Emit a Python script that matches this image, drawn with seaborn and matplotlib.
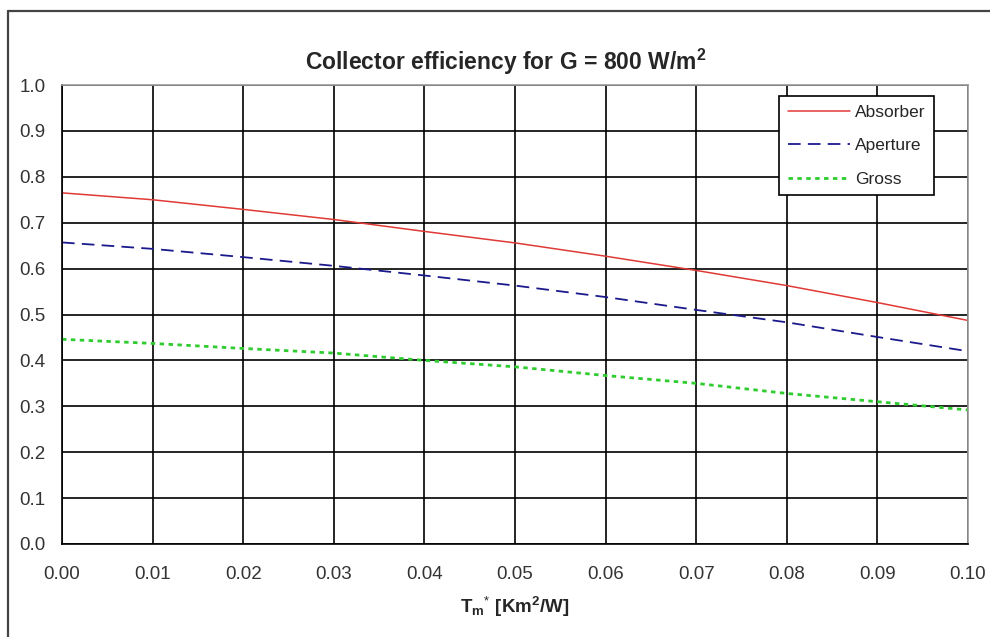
import matplotlib
matplotlib.use("Agg")
import matplotlib.pyplot as plt
import seaborn as sns
import pandas as pd
from matplotlib.lines import Line2D

# ---- data ----
tm = [0.00, 0.01, 0.02, 0.03, 0.04, 0.05, 0.06, 0.07, 0.08, 0.09, 0.10]
absorber = [0.765, 0.750, 0.729, 0.707, 0.681, 0.656, 0.627, 0.596, 0.563, 0.526, 0.487]
aperture = [0.657, 0.643, 0.625, 0.606, 0.585, 0.563, 0.538, 0.510, 0.483, 0.451, 0.420]
gross = [0.446, 0.437, 0.426, 0.416, 0.400, 0.386, 0.367, 0.350, 0.328, 0.310, 0.292]
series_names = ["Absorber", "Aperture", "Gross"]
x_ticks = [0.00, 0.01, 0.02, 0.03, 0.04, 0.05, 0.06, 0.07, 0.08, 0.09, 0.10]
y_ticks = [0.0, 0.1, 0.2, 0.3, 0.4, 0.5, 0.6, 0.7, 0.8, 0.9, 1.0]

df = pd.DataFrame({
    "Tm": tm * 3,
    "eff": absorber + aperture + gross,
    "series": [series_names[0]] * len(tm) + [series_names[1]] * len(tm) + [series_names[2]] * len(tm),
})

sns.set_style("white")
plt.rcParams["font.family"] = ["Liberation Sans", "DejaVu Sans"]
plt.rcParams["mathtext.fontset"] = "custom"
plt.rcParams["mathtext.rm"] = "Liberation Sans"
plt.rcParams["mathtext.it"] = "Liberation Sans"
plt.rcParams["mathtext.bf"] = "Liberation Sans:bold"

fig = plt.figure(figsize=(9.9, 6.37), dpi=100)
ax = fig.add_axes([62 / 990, 1 - 544 / 637, (968 - 62) / 990, (544 - 85) / 637])

styles = {
    "Absorber": dict(color="#e03a36", linestyle="-", linewidth=1.1),
    "Aperture": dict(color="#1a1a8c", linestyle=(0, (7, 4)), linewidth=1.3),
    "Gross": dict(color="#2ecc2e", linestyle=(0, (1.6, 1.6)), linewidth=2.0),
}
for name in series_names:
    sub = df[df["series"] == name]
    sns.lineplot(data=sub, x="Tm", y="eff", ax=ax, label=name,
                 legend=False, **styles[name])

ax.set_xlim(0, 0.10)
ax.set_ylim(0, 1.0)
ax.set_xticks(x_ticks)
ax.set_yticks(y_ticks)
ax.set_xticklabels([f"{v:.2f}" for v in x_ticks])
ax.set_yticklabels([f"{v:.1f}" for v in y_ticks])
ax.grid(True, color="black", linewidth=1.2)
ax.set_axisbelow(True)
ax.tick_params(axis="both", which="major", length=5, width=1.2, color="black",
               labelsize=13.5, labelcolor="#333333", direction="out")
ax.tick_params(axis="x", pad=10.5)
ax.tick_params(axis="y", pad=7)
for side in ["top", "right"]:
    ax.spines[side].set_color("#999999")
    ax.spines[side].set_linewidth(1.2)
for side in ["left", "bottom"]:
    ax.spines[side].set_color("black")
    ax.spines[side].set_linewidth(1.2)

ax.set_title("Collector efficiency for G = 800 W/m$^{\\mathbf{2}}$",
             fontsize=16.5, fontweight="bold", pad=11, x=0.49)
ax.set_xlabel("$\\mathbf{T_m}^{*}$ [Km$^{\\mathbf{2}}$/W]", fontsize=13.5,
              fontweight="bold", labelpad=9)
ax.set_ylabel("")

handles = [Line2D([0], [0], **styles[n]) for n in series_names]
leg = ax.legend(handles, series_names, loc="upper right",
                bbox_to_anchor=((934 - 62) / (968 - 62), 1 - (96 - 85) / (544 - 85)),
                fontsize=12.5, frameon=True, fancybox=False, shadow=False,
                edgecolor="black", framealpha=1, handlelength=3.6,
                handletextpad=0.25, labelspacing=1.05, borderpad=0.5,
                borderaxespad=0)
leg.get_frame().set_linewidth(1.2)

# outer chart border (top and left, as in the cropped reference)
fig.add_artist(Line2D([8 / 990, 1.0], [1 - 11 / 637, 1 - 11 / 637],
                      transform=fig.transFigure, color="#444444", linewidth=1.6))
fig.add_artist(Line2D([8 / 990, 8 / 990], [0, 1 - 11 / 637],
                      transform=fig.transFigure, color="#444444", linewidth=1.6))

fig.savefig("out.png", dpi=100, facecolor="white")
